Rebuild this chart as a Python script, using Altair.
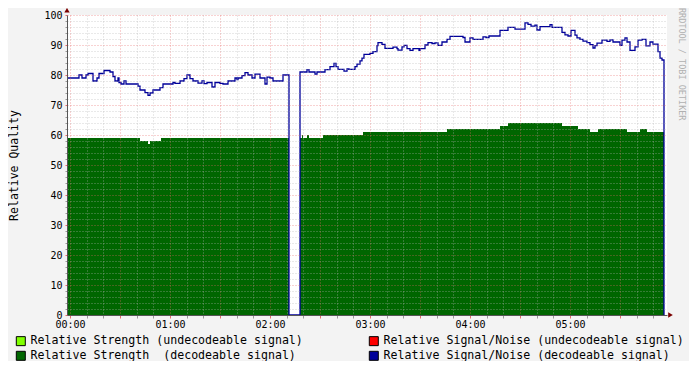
import altair as alt
import pandas as pd

MONO = "DejaVu Sans Mono"

# time axis: minutes after 00:00
sn_t = [-1.8, 5.4, 7.2, 9.6, 10.8, 13.8, 16.2, 17.4, 20.4, 24.0, 25.8, 27.0, 28.8, 29.4,
        30.6, 32.4, 33.6, 40.8, 42.0, 45.0, 46.8, 48.0, 49.8, 54.0, 55.8, 61.8, 63.0,
        66.0, 68.4, 70.2, 72.0, 73.8, 76.8, 79.2, 80.4, 82.2, 85.2, 87.0, 90.0, 91.8,
        94.8, 99.0, 100.2, 100.8, 103.2, 105.0, 106.8, 109.2, 111.0, 114.0, 117.0, 118.2,
        120.0, 121.8, 127.8, 131.4, 138.0, 142.2, 143.4, 147.0, 148.2, 153.0, 156.0,
        158.4, 159.6, 160.8, 164.4, 166.2, 167.4, 171.0, 172.2, 174.0, 175.2, 176.4,
        180.0, 181.8, 184.2, 184.8, 187.2, 189.0, 193.8, 196.2, 196.8, 199.2, 200.4,
        202.2, 204.0, 205.8, 209.4, 210.0, 213.0, 214.8, 217.2, 219.0, 220.8, 223.2,
        226.2, 228.0, 235.8, 237.0, 240.0, 241.8, 247.8, 249.6, 251.4, 258.0, 262.8,
        267.0, 273.0, 274.8, 276.6, 279.0, 280.2, 282.0, 288.0, 289.2, 295.2, 297.0,
        298.8, 300.6, 303.0, 304.2, 306.0, 307.8, 310.2, 312.0, 313.8, 315.0, 316.2,
        319.2, 322.2, 324.0, 325.8, 330.0, 331.2, 333.0, 334.2, 336.0, 339.0, 340.8,
        343.2, 345.6, 348.0, 349.8, 352.8, 354.0, 355.2, 356.4]
sn_v = [79, 80, 79, 80, 80.5, 78, 79, 80.5, 81.5, 81, 79.5, 78, 79, 77.5,
        77, 78, 77, 76.3, 75, 74.1, 73.2, 74, 75, 75.8, 77, 77.5, 77.2,
        78, 78.8, 80, 78.8, 78, 77.3, 78, 77.1, 77.5, 76, 77.5, 77.2, 77,
        78, 79, 78.5, 79, 79.8, 80.8, 80, 79, 80.3, 79, 77, 79.3,
        79, 78, 80, 0, 81, 81.8, 81, 80.3, 81, 81.8, 82.8,
        83.9, 82.8, 81.9, 81.3, 82, 81.9, 82.8, 83.6, 84.7, 85.6, 86.9,
        87.2, 87.8, 89.8, 90.8, 90.2, 88.9, 89.3, 88.8, 88.3, 89.4, 89.9,
        88.8, 88.2, 88.8, 88.2, 88.8, 90, 90.8, 90.5, 90.7, 89.9, 91,
        91.9, 92.9, 92.5, 91, 92.4, 91.9, 92.7, 92.5, 93, 94.9, 95.9,
        95.3, 97.4, 96.9, 96.3, 96.6, 95, 96.1, 96.8, 95.9, 94.2, 93.4,
        93, 94.9, 93.3, 92.4, 91.9, 91.3, 90.8, 90.1, 89, 89.8, 90.6,
        91.6, 91.2, 91.7, 91, 89.9, 91.6, 92.4, 91, 88.2, 89.4, 91.6,
        91.9, 89.7, 91, 90.3, 87.8, 85.6, 85, 0]

st_t = [-1.8, 42.0, 46.8, 48.0, 54.6, 131.4, 138.0, 139.2, 139.8, 142.2, 143.4, 151.8,
        175.8, 226.2, 258.0, 262.8, 295.2, 304.8, 312.0, 316.8, 334.2, 342.0, 346.2, 356.4]
st_v = [59, 58, 57, 58, 59, 0, 59, 60, 59, 60, 59, 60,
        61, 62, 63, 64, 63, 62, 61, 62, 61, 62, 61, 0]

# legend order (laid out column by column)
series_names = [
    "Relative Strength (undecodeable signal)",
    "Relative Strength\u00a0 (decodeable signal)",
    "Relative Signal/Noise (undecodeable signal)",
    "Relative Signal/Noise (decodeable signal)",
]
series_colors = ["#80FF00", "#006600", "#FF0000", "#000099"]

x_ticks = [0, 10, 20, 30, 40, 50, 60, 70, 80, 90, 100, 110, 120, 130, 140, 150, 160, 170,
           180, 190, 200, 210, 220, 230, 240, 250, 260, 270, 280, 290, 300, 310, 320, 330,
           340, 350]
y_ticks = [0, 2, 4, 6, 8, 10, 12, 14, 16, 18, 20, 22, 24, 26, 28, 30, 32, 34, 36, 38, 40,
           42, 44, 46, 48, 50, 52, 54, 56, 58, 60, 62, 64, 66, 68, 70, 72, 74, 76, 78, 80,
           82, 84, 86, 88, 90, 92, 94, 96, 98, 100]

sn_df = pd.DataFrame({"t": sn_t, "v": sn_v, "series": series_names[3]})
st_df = pd.DataFrame({"t": st_t, "v": st_v, "series": series_names[1]})
arrow_df = pd.DataFrame({"t": [-1.8, 360.3], "v": [101.6, 0],
                         "shape": ["triangle-up", "triangle-right"]})

MAJ = "#e86868"
MIN = "#b4b4b4"

x_enc = alt.X(
    "t:Q",
    scale=alt.Scale(domain=[-1.8, 358.2], nice=False, zero=False),
    axis=alt.Axis(
        values=x_ticks, title=None,
        labelExpr="datum.value % 60 === 0 ? '0' + (datum.value / 60) + ':00' : ''",
        labelFont=MONO, labelFontSize=10, labelColor="#000", labelPadding=1,
        labelFlush=False, labelOverlap=False,
        grid=True, gridDash=[1, 2], gridOpacity=0.6,
        gridColor={"condition": {"test": "datum.value % 30 === 0", "value": MAJ}, "value": MIN},
        tickColor={"condition": {"test": "datum.value % 30 === 0", "value": MAJ}, "value": "#999"},
        tickSize=3, domainColor="#555", zindex=1,
    ),
)
y_enc = alt.Y(
    "v:Q",
    scale=alt.Scale(domain=[0, 100], nice=False),
    axis=alt.Axis(
        values=y_ticks, title="Relative Quality",
        labelExpr="datum.value % 10 === 0 ? datum.value : ''",
        labelFont=MONO, labelFontSize=10, labelColor="#000", labelPadding=3,
        labelFlush=False, labelOverlap=False,
        titleFont=MONO, titleFontSize=11.5, titleFontWeight="normal", titleColor="#000",
        titlePadding=24,
        grid=True, gridDash=[1, 2], gridOpacity=0.6,
        gridColor={"condition": {"test": "datum.value % 10 === 0", "value": MAJ}, "value": MIN},
        tickColor={"condition": {"test": "datum.value % 10 === 0", "value": MAJ}, "value": "#999"},
        tickSize=2, domainColor="#555", zindex=1,
    ),
)

area = alt.Chart(st_df).mark_area(interpolate="step-after", opacity=1).encode(
    x=x_enc, y=y_enc,
    color=alt.Color(
        "series:N",
        scale=alt.Scale(domain=series_names, range=series_colors),
        legend=alt.Legend(
            title=None, orient="none", legendX=-52, legendY=320, columns=2,
            symbolType="square", symbolSize=81, symbolStrokeColor="#000",
            symbolStrokeWidth=1, symbolOpacity=1, labelFont=MONO, labelFontSize=11.6,
            labelColor="#000", labelLimit=500, labelOffset=4, columnPadding=64,
            rowPadding=1, padding=0,
        ),
    ),
)

line = alt.Chart(sn_df).mark_line(interpolate="step-after", strokeWidth=1.3, color="#000099").encode(
    x=x_enc, y=y_enc,
)

arrows = alt.Chart(arrow_df).mark_point(filled=True, size=28, color="#7a0000", opacity=1).encode(
    x=x_enc, y=y_enc, shape=alt.Shape("shape:N", scale=None, legend=None),
)

chart = alt.layer(area, line, arrows).properties(
    width=600, height=300,
    autosize=alt.AutoSizeParams(type="none"),
    padding={"left": 59, "top": 7, "right": 22, "bottom": 46},
    title=alt.Title("RRDTOOL / TOBI OETIKER", orient="right", anchor="start",
                    font=MONO, fontSize=8.5, fontWeight="normal", color="#b0b0b0", offset=-7),
).configure(background="#f3f3f3").configure_view(fill="white", strokeWidth=0)

chart.save("out.html", embed_options={"renderer": "svg", "actions": False})
